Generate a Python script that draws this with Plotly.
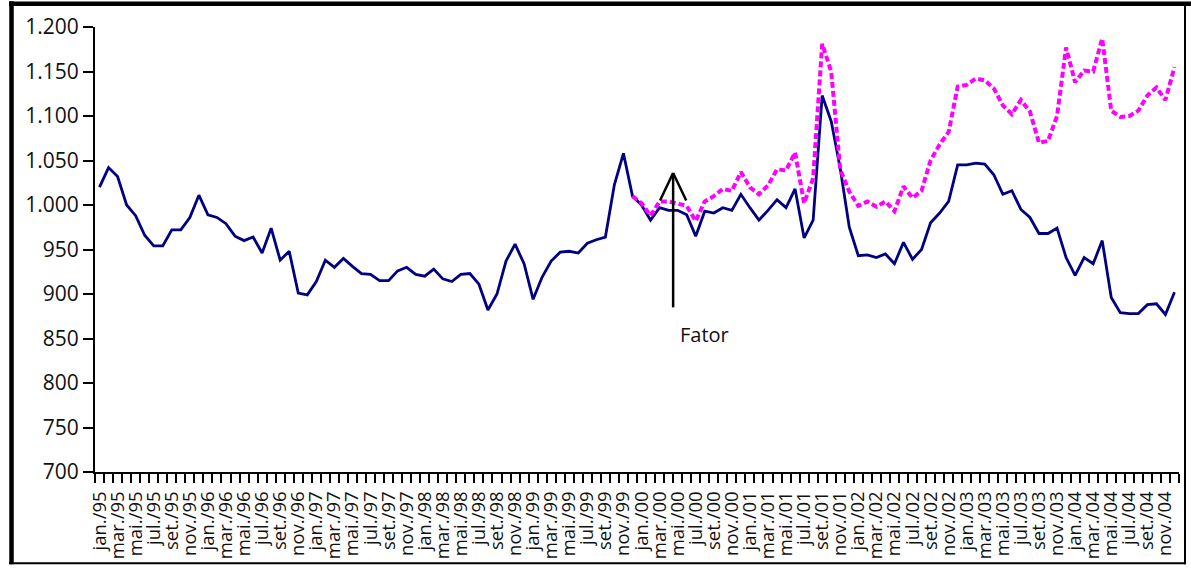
import plotly.graph_objects as go

month_abbr = ["jan.", "fev.", "mar.", "abr.", "mai.", "jun.",
              "jul.", "ago.", "set.", "out.", "nov.", "dez."]
years = ["95", "96", "97", "98", "99", "00", "01", "02", "03", "04"]
categories = [f"{m}/{y}" for y in years for m in month_abbr]

# Solid navy series (jan/95 .. dez/04)
navy_values = [
    1020, 1042, 1032, 1000, 988, 966, 954, 954, 972, 972, 986, 1011,   # 95
    989, 986, 979, 965, 960, 964, 946, 974, 938, 948, 901, 899,        # 96
    914, 938, 930, 940, 931, 923, 922, 915, 915, 926, 930, 922,        # 97
    920, 928, 917, 914, 922, 923, 911, 882, 900, 937, 956, 934,        # 98
    894, 919, 937, 947, 948, 946, 957, 961, 964, 1023, 1058, 1010,     # 99
    1000, 983, 997, 994, 994, 989, 965, 993, 991, 997, 994, 1012,      # 00
    997, 983, 994, 1006, 997, 1018, 963, 983, 1123, 1094, 1041, 975,   # 01
    943, 944, 941, 945, 934, 958, 939, 950, 980, 991, 1004, 1045,      # 02
    1045, 1047, 1046, 1034, 1012, 1016, 995, 986, 968, 968, 974, 941,  # 03
    921, 941, 934, 960, 896, 879, 878, 878, 888, 889, 877, 902,        # 04
]

# Dashed magenta series (starts dez/99)
magenta_values = [None] * 59 + [
    1010,                                                              # dez/99
    1002, 988, 1004, 1004, 1001, 999, 982, 1004, 1010, 1018, 1016, 1037,   # 00
    1020, 1012, 1022, 1040, 1039, 1059, 1002, 1030, 1181, 1150, 1040, 1015,  # 01
    999, 1004, 998, 1004, 993, 1021, 1008, 1016, 1050, 1068, 1082, 1133,   # 02
    1135, 1142, 1140, 1131, 1112, 1102, 1118, 1105, 1070, 1072, 1100, 1177,  # 03
    1138, 1151, 1150, 1187, 1106, 1099, 1100, 1106, 1123, 1132, 1118, 1155,  # 04
]

y_tick_values = [700, 750, 800, 850, 900, 950, 1000, 1050, 1100, 1150, 1200]
y_tick_labels = ["700", "750", "800", "850", "900", "950",
                 "1.000", "1.050", "1.100", "1.150", "1.200"]

arrow_label = "Fator"
arrow_month = 63.5
arrow_tail, arrow_tip, arrow_wing = 885, 1036, 1005

x_idx = list(range(len(categories)))

fig = go.Figure()
fig.add_trace(go.Scatter(x=x_idx, y=navy_values, mode="lines",
                         line=dict(color="#000080", width=2.8),
                         hoverinfo="skip", name="navy"))
fig.add_trace(go.Scatter(x=x_idx, y=magenta_values, mode="lines",
                         line=dict(color="#FF00FF", width=4, dash="6px,3px"),
                         connectgaps=False, hoverinfo="skip", name="magenta"))

L, R, T, B = 95, 12, 27, 95
W, H = 1191, 571
pw, ph = W - L - R, H - T - B


def px(xp):
    return (xp - L) / pw


def py(yp):
    return (H - B - yp) / ph


shapes = []
# arrow
shapes.append(dict(type="line", xref="x", yref="y", x0=arrow_month, x1=arrow_month,
                   y0=arrow_tail, y1=arrow_tip, line=dict(color="black", width=2.5)))
shapes.append(dict(type="line", xref="x", yref="y", x0=arrow_month - 1.45, x1=arrow_month,
                   y0=arrow_wing, y1=arrow_tip, line=dict(color="black", width=2.5)))
shapes.append(dict(type="line", xref="x", yref="y", x0=arrow_month + 1.45, x1=arrow_month,
                   y0=arrow_wing, y1=arrow_tip, line=dict(color="black", width=2.5)))
# outer frame
shapes.append(dict(type="line", xref="paper", yref="paper", x0=px(11.5), x1=px(11.5),
                   y0=py(1), y1=py(569), line=dict(color="black", width=4.5)))
shapes.append(dict(type="line", xref="paper", yref="paper", x0=px(9), x1=px(1191),
                   y0=py(3.5), y1=py(3.5), line=dict(color="black", width=4.5)))
shapes.append(dict(type="line", xref="paper", yref="paper", x0=px(1185), x1=px(1185),
                   y0=py(3), y1=py(569), line=dict(color="black", width=2)))
shapes.append(dict(type="line", xref="paper", yref="paper", x0=px(9), x1=px(1186),
                   y0=py(568), y1=py(568), line=dict(color="black", width=2)))

fig.update_layout(
    width=W, height=H,
    margin=dict(l=L, r=R, t=T, b=B, pad=0),
    paper_bgcolor="white", plot_bgcolor="white",
    showlegend=False,
    font=dict(family="Open Sans", color="#111111"),
    shapes=shapes,
    annotations=[dict(x=67, y=855, xref="x", yref="y", text=arrow_label,
                      showarrow=False, font=dict(family="Open Sans", size=20, color="#111111"))],
    xaxis=dict(
        range=[-0.5, len(categories) - 0.5],
        tickmode="array", tickvals=x_idx[::2], ticktext=categories[::2],
        tickangle=-90, ticks="outside", ticklen=10, tickcolor="rgba(0,0,0,0)",
        tickfont=dict(family="Open Sans", size=18.5, color="#111111"),
        showline=True, linecolor="black", linewidth=2,
        showgrid=False, zeroline=False,
        minor=dict(tickmode="array", tickvals=[i - 0.5 for i in range(len(categories) + 1)],
                   ticks="outside", ticklen=9, tickwidth=2, tickcolor="black", showgrid=False),
    ),
    yaxis=dict(
        range=[700, 1200],
        tickmode="array", tickvals=y_tick_values, ticktext=y_tick_labels,
        ticks="outside", ticklen=10, tickwidth=2, tickcolor="black",
        tickfont=dict(family="Open Sans", size=21, color="#111111"),
        showline=True, linecolor="black", linewidth=2,
        showgrid=False, zeroline=False,
    ),
)

fig.write_html("out.html", config={"displayModeBar": False},
               post_script="document.body.style.margin='0';document.body.style.overflow='hidden';")
